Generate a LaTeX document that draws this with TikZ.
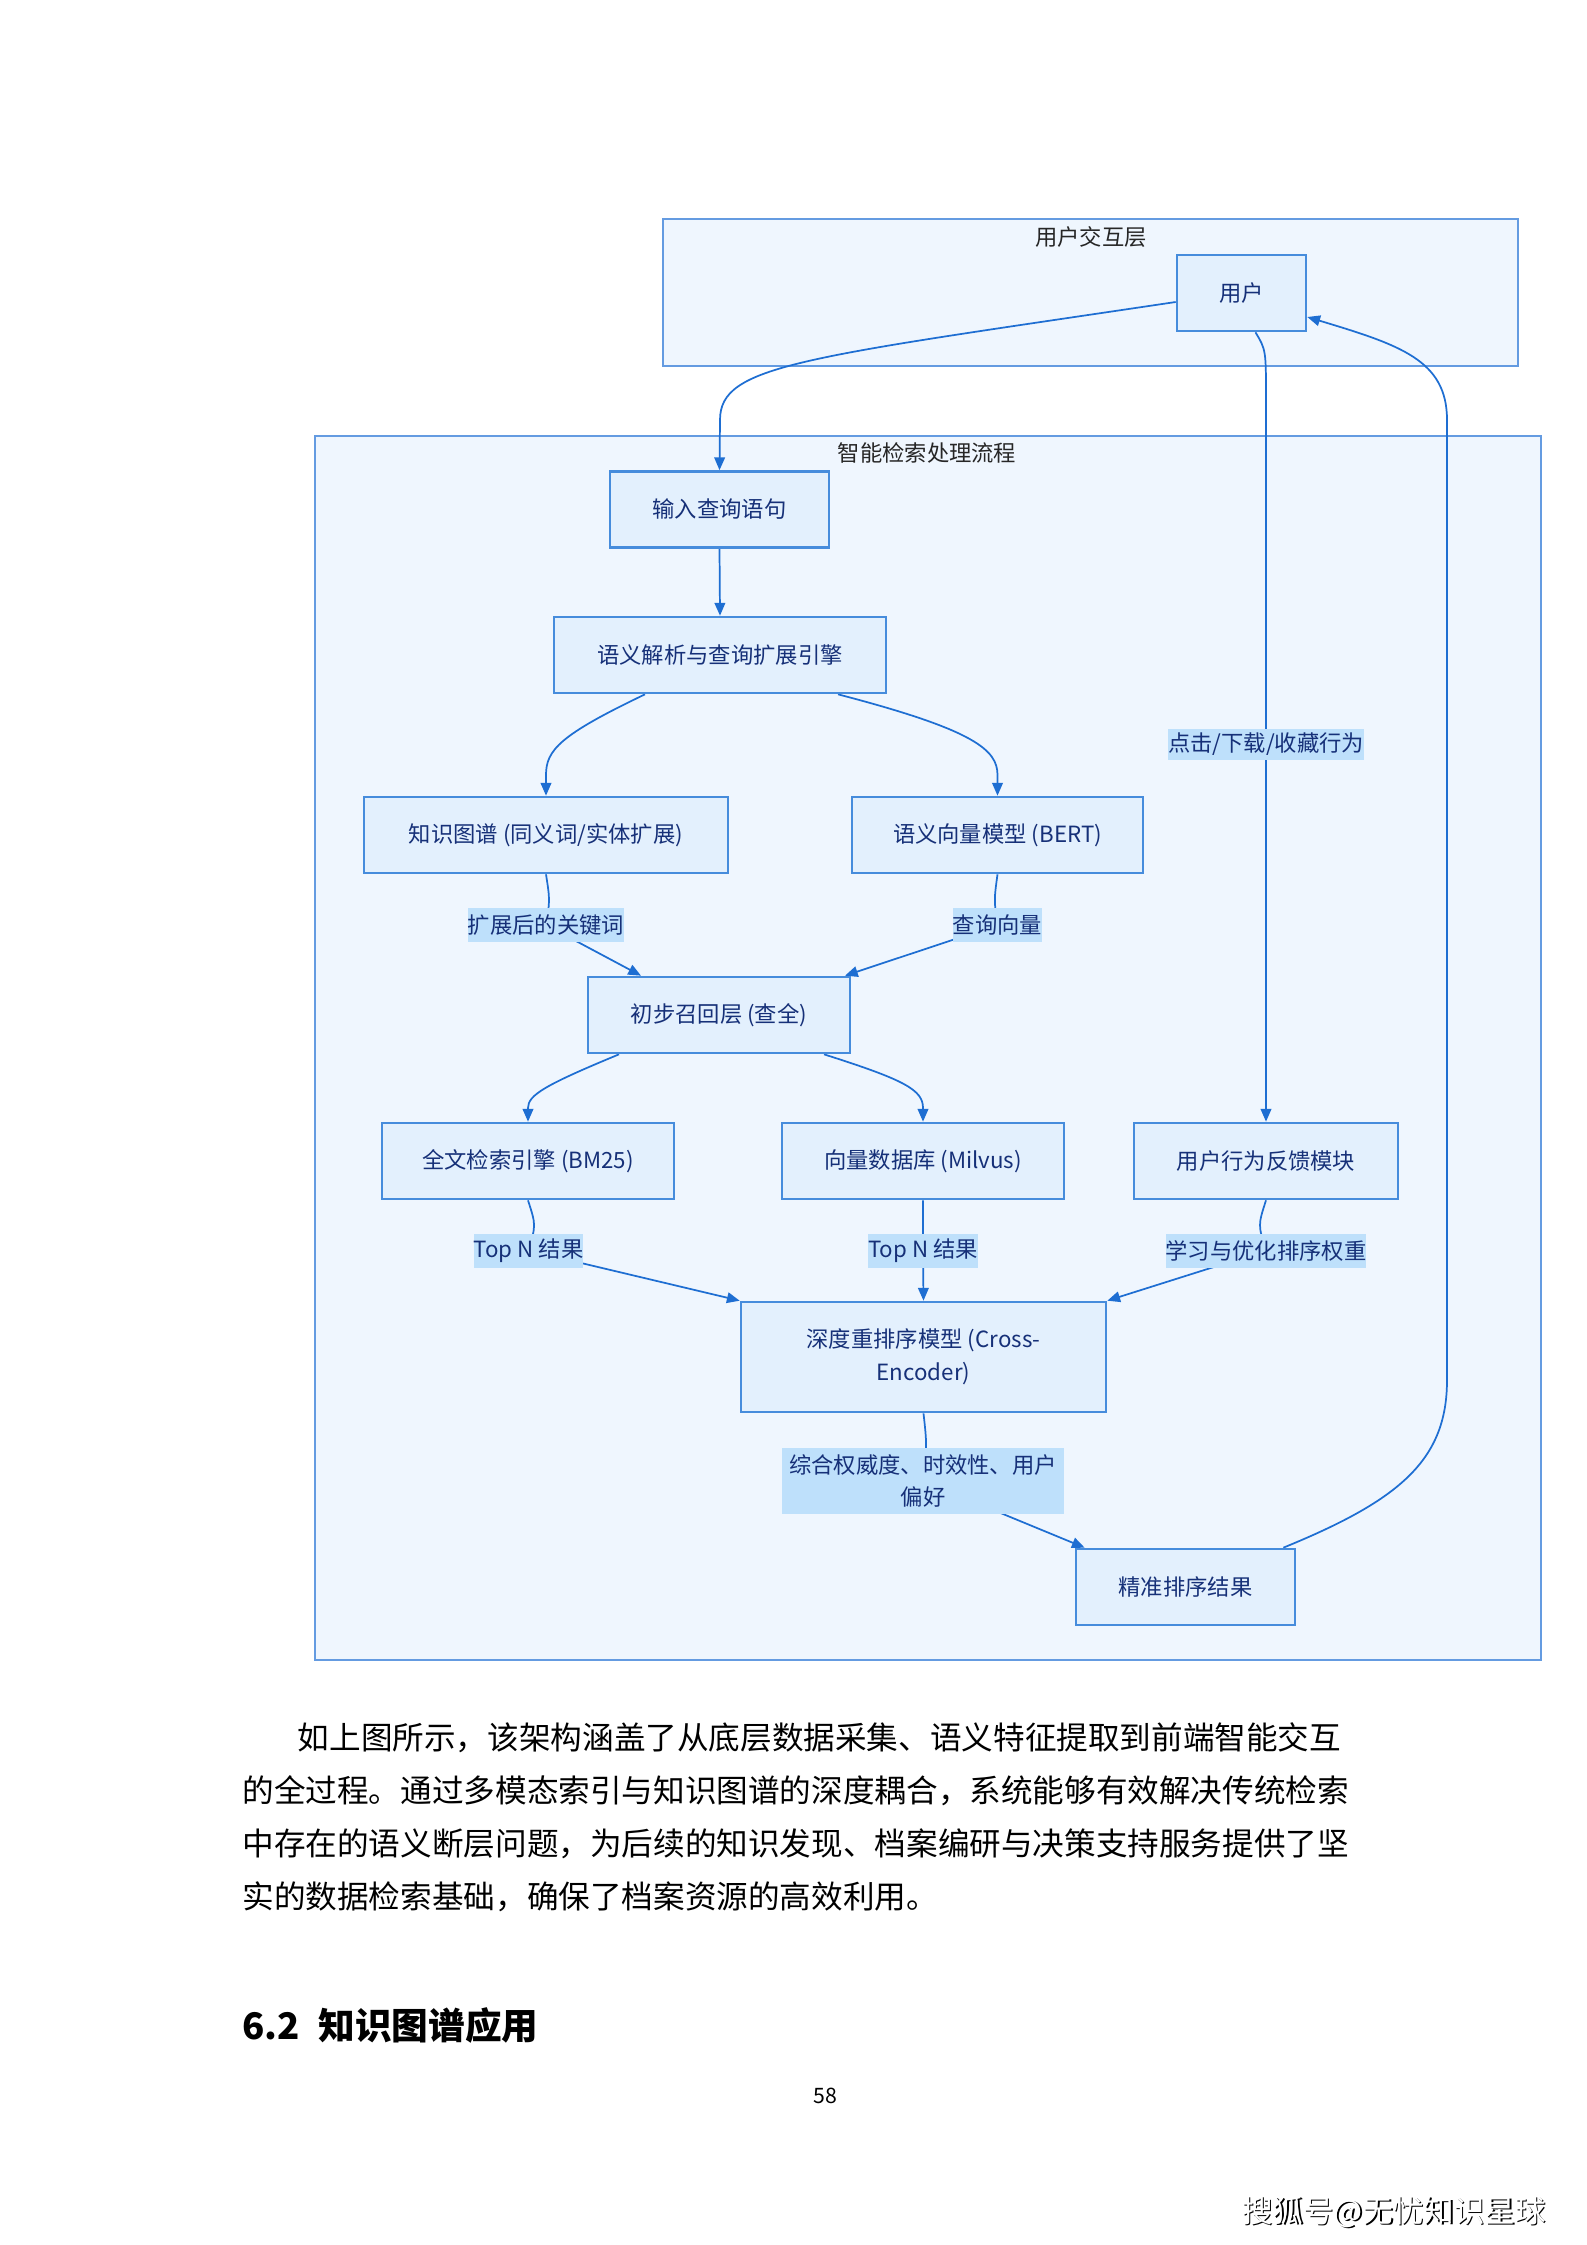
\documentclass[tikz,border=0pt]{standalone}
\usepackage{fontspec}
\setmainfont{Noto Sans CJK SC}
\usetikzlibrary{arrows.meta,calc}
\pgfdeclarelayer{back}
\pgfdeclarelayer{mid}
\pgfsetlayers{back,mid,main}
\definecolor{zoneback}{RGB}{239,246,254}
\definecolor{zoneline}{RGB}{100,155,225}
\definecolor{boxfill}{RGB}{227,240,253}
\definecolor{boxline}{RGB}{70,140,220}
\definecolor{flowline}{RGB}{30,110,210}
\definecolor{lblfill}{RGB}{190,224,251}
\definecolor{navy}{RGB}{22,48,120}
\newcommand{\pu}{0.013233cm}
\newcommand{\dfont}{\fontsize{8.4}{10}\selectfont}
\begin{document}
\begin{tikzpicture}[x=\pu,y=-\pu,
  zone/.style={draw=zoneline,fill=zoneback,line width=0.75pt},
  zonetitle/.style={text=black!85,inner sep=0pt,font=\dfont},
  procbox/.style={draw=boxline,fill=boxfill,line width=1pt,text=navy,inner sep=0pt,
    minimum height=76*\pu,align=center,font=\dfont},
  edgelbl/.style={fill=lblfill,text=navy,inner sep=0pt,minimum height=34*\pu,
    align=center,font=\dfont},
  flow/.style={draw=flowline,line width=0.65pt,-{Triangle[length=4.8pt,width=4pt]}}]
\useasboundingbox (0,0) rectangle (1587,2245);
\begin{pgfonlayer}{back}
\fill[white] (0,0) rectangle (1587,2245);
\draw[zone] (663,219) rectangle (1518,366);
\draw[zone] (315,436) rectangle (1541,1660);
\end{pgfonlayer}
\node[zonetitle] (toptitle) at (1091,237) {用户交互层};
\node[zonetitle] (maintitle) at (927,453) {智能检索处理流程};

\node[procbox,minimum width=129*\pu] (user) at (1241.5,293) {用户};
\node[procbox,minimum width=219*\pu] (input) at (719.5,509.5) {输入查询语句};
\node[procbox,minimum width=332*\pu] (engine) at (720,655) {语义解析与查询扩展引擎};
\node[procbox,minimum width=364*\pu] (kg) at (546,835) {知识图谱 (同义词/实体扩展)};
\node[procbox,minimum width=291*\pu] (bert) at (997.5,835) {语义向量模型 (BERT)};
\node[procbox,minimum width=262*\pu] (recall) at (719,1015) {初步召回层 (查全)};
\node[procbox,minimum width=292*\pu] (bm25) at (528,1161) {全文检索引擎 (BM25)};
\node[procbox,minimum width=282*\pu] (milvus) at (923,1161) {向量数据库 (Milvus)};
\node[procbox,minimum width=264*\pu] (feedback) at (1266,1161) {用户行为反馈模块};
\node[procbox,minimum width=365*\pu,minimum height=110*\pu,
  font=\fontsize{8.4}{12.4}\selectfont] (rerank) at (923.5,1357)
  {深度重排序模型 (Cross-\\Encoder)};
\node[procbox,minimum width=219*\pu] (result) at (1185.5,1587) {精准排序结果};

\node[edgelbl] (lkw) at (546,925) {扩展后的关键词};
\node[edgelbl] (lvec) at (997.5,925) {查询向量};
\node[edgelbl,minimum height=31*\pu] (lclick) at (1266,744.5) {点击/下载/收藏行为};
\node[edgelbl] (ltopa) at (528.5,1250.5) {Top N 结果};
\node[edgelbl] (ltopb) at (923,1250.5) {Top N 结果};
\node[edgelbl] (llearn) at (1266,1250.5) {学习与优化排序权重};
\node[edgelbl,minimum width=282*\pu,minimum height=66*\pu,
  font=\fontsize{8.4}{12}\selectfont] (lweight) at (923,1481)
  {综合权威度、时效性、用户\\偏好};

\begin{pgfonlayer}{mid}
\draw[flow] ($(user.west)+(0,9)$) .. controls (800,358) and (720,365) .. (720,420) -- (input.north);
\draw[flow] (input.south) -- (engine.north);
\draw[flow] ($(engine.south)+(-75,0)$) .. controls (560,735) and (546,750) .. (546,775) -- (kg.north);
\draw[flow] ($(engine.south)+(118,0)$) .. controls (975,730) and (997.5,750) .. (997.5,775) -- (bert.north);
\draw[flow] (kg.south) .. controls (550,900) .. (lkw.center) -- ($(recall.north)+(-78,0)$);
\draw[flow] (bert.south) .. controls (994,900) .. (lvec.center) -- ($(recall.north)+(126,0)$);
\draw[flow] ($(recall.south)+(-100,0)$) .. controls (545,1085) and (528,1095) .. (528,1108) -- (bm25.north);
\draw[flow] ($(recall.south)+(105,0)$) .. controls (905,1080) and (923,1090) .. (923,1108) -- (milvus.north);
\draw[flow] (bm25.south) .. controls (536,1225) .. (ltopa.center) -- (rerank.north west);
\draw[flow] (milvus.south) -- (ltopb.center) -- (rerank.north);
\draw[flow] (feedback.south) .. controls (1258,1225) .. (llearn.center) -- (rerank.north east);
\draw[flow] (rerank.south) .. controls (927,1445) .. (lweight.center) -- ($(result.north west)+(10,0)$);
\draw[flow] ($(user.south)+(14,0)$) .. controls (1266,350) .. (1266,400) -- (lclick.center) -- (feedback.north);
\draw[flow] ($(result.north east)+(-13,0)$) .. controls (1400,1500) and (1447,1460) .. (1447,1380)
  -- (1447,420) .. controls (1447,360) and (1400,345) .. ($(user.east)+(0,24)$);
\end{pgfonlayer}

\node[anchor=north west,inner sep=0pt,align=left,font=\fontsize{11.9}{19.95}\selectfont] (para) at (242,1722)
  {\hspace*{1.75em}如上图所示，该架构涵盖了从底层数据采集、语义特征提取到前端智能交互\\
   的全过程。通过多模态索引与知识图谱的深度耦合，系统能够有效解决传统检索\\
   中存在的语义断层问题，为后续的知识发现、档案编研与决策支持服务提供了坚\\
   实的数据检索基础，确保了档案资源的高效利用。};
\node[anchor=west,inner sep=0pt,font=\fontsize{13.8}{16}\selectfont\bfseries] (sechead) at (242,2025)
  {6.2\hspace{0.5em}知识图谱应用};
\node[font=\fontsize{8}{10}\selectfont] (pageno) at (825,2096) {58};
\node[font=\fontsize{11.5}{14}\selectfont,text=black] (sohushadow) at (1395.5,2213.5) {搜狐号@无忧知识星球};
\node[font=\fontsize{11.5}{14}\selectfont,text=white] (sohu) at (1394,2212) {搜狐号@无忧知识星球};
\end{tikzpicture}
\end{document}
